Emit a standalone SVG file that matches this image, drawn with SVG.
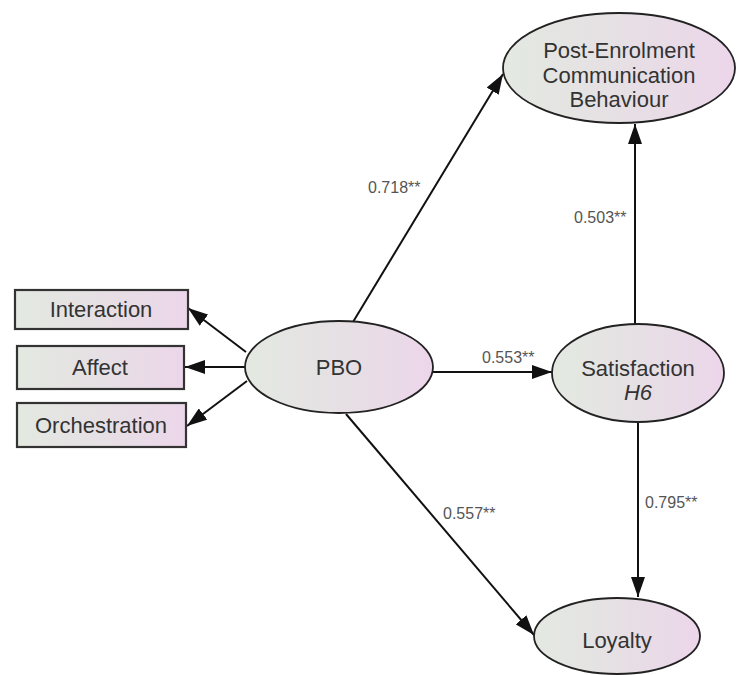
<svg xmlns="http://www.w3.org/2000/svg" width="737" height="675" viewBox="0 0 737 675">
<defs>
<linearGradient id="g" x1="0" y1="0" x2="1" y2="0">
<stop offset="0" stop-color="#e3e9e1"/>
<stop offset="0.5" stop-color="#e6e0e4"/>
<stop offset="1" stop-color="#ecd6ea"/>
</linearGradient>
<marker id="ah" markerUnits="userSpaceOnUse" markerWidth="20" markerHeight="14" refX="20" refY="7" orient="auto">
<path d="M0,0 L20,7 L0,14 z" fill="#111"/>
</marker>
</defs>
<style>
.node{fill:url(#g);stroke:#222;stroke-width:1.8}
.box{fill:url(#g);stroke:#333;stroke-width:2.2}
.lbl{font-family:"Liberation Sans",Arial,sans-serif;font-size:22px;fill:#333;text-anchor:middle}
.coef{font-family:"Liberation Sans",Arial,sans-serif;font-size:16px;fill:#555}
.edge{stroke:#111;stroke-width:2;fill:none;marker-end:url(#ah)}
</style>
<rect width="737" height="675" fill="#fff"/>
<g id="connectors">
<line class="edge" x1="353" y1="322" x2="503" y2="74"/>
<line class="edge" x1="635" y1="324" x2="635" y2="124"/>
<line class="edge" x1="433" y1="372" x2="552" y2="372"/>
<line class="edge" x1="638" y1="422" x2="638" y2="597"/>
<line class="edge" x1="346" y1="414" x2="534" y2="635"/>
<line class="edge" x1="246" y1="352" x2="188" y2="308"/>
<line class="edge" x1="245" y1="367" x2="185" y2="367"/>
<line class="edge" x1="247" y1="381" x2="187" y2="426"/>
<text class="coef" x="368" y="193">0.718**</text>
<text class="coef" x="574" y="223">0.503**</text>
<text class="coef" x="482" y="363">0.553**</text>
<text class="coef" x="443" y="519">0.557**</text>
<text class="coef" x="645" y="508">0.795**</text>
</g>
<g id="post-enrolment">
<ellipse class="node" cx="619" cy="68" rx="116" ry="55"/>
<text class="lbl" x="619" y="58">Post-Enrolment</text>
<text class="lbl" x="619" y="83">Communication</text>
<text class="lbl" x="619" y="107">Behaviour</text>
</g>
<g id="pbo">
<ellipse class="node" cx="339" cy="367" rx="94" ry="46"/>
<text class="lbl" x="339" y="375">PBO</text>
</g>
<g id="satisfaction">
<ellipse class="node" cx="638" cy="373" rx="86" ry="49"/>
<text class="lbl" x="638" y="376">Satisfaction</text>
<text class="lbl" x="638" y="400" font-style="italic">H6</text>
</g>
<g id="loyalty">
<ellipse class="node" cx="617" cy="636" rx="83" ry="38"/>
<text class="lbl" x="617" y="648">Loyalty</text>
</g>
<g id="interaction">
<rect class="box" x="15" y="290" width="173" height="39"/>
<text class="lbl" x="101" y="317">Interaction</text>
</g>
<g id="affect">
<rect class="box" x="17" y="346" width="167" height="43"/>
<text class="lbl" x="100" y="375">Affect</text>
</g>
<g id="orchestration">
<rect class="box" x="17" y="403" width="169" height="44"/>
<text class="lbl" x="101" y="433">Orchestration</text>
</g>
</svg>
